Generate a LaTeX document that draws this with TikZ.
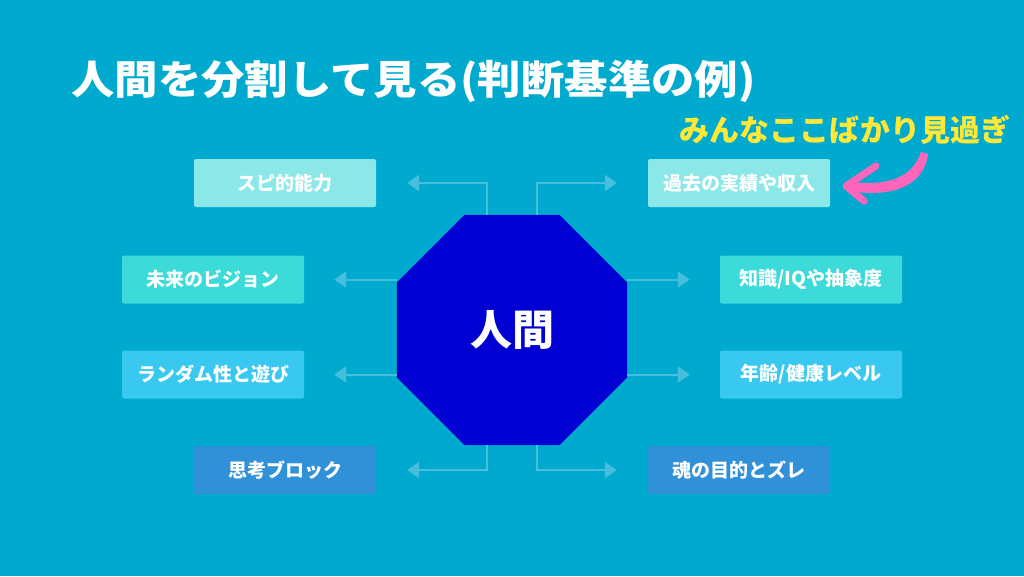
\documentclass[tikz,border=0pt]{standalone}
\usepackage{fontspec}
\setmainfont{Noto Sans CJK JP}
\usetikzlibrary{shapes.geometric, arrows.meta}

\definecolor{bgblue}{HTML}{00AACE}
\definecolor{corebl}{HTML}{0000D2}
\definecolor{linkbl}{HTML}{48BEDE}
\definecolor{paleaq}{HTML}{8CE8E8}
\definecolor{turqu}{HTML}{3CDAD8}
\definecolor{skybl}{HTML}{38C8F0}
\definecolor{deepbl}{HTML}{3090D8}
\definecolor{notey}{HTML}{FFE838}
\definecolor{notep}{HTML}{FF66BB}

\newcommand\factortextstyle{\fontsize{19}{23}\selectfont\bfseries}
\newcommand\factorwidth{182pt}
\newcommand\factorheight{48pt}
\newcommand\factorbox[4]{
  \node[fill=#3, text=white, rounded corners=2pt, minimum width=\factorwidth,
        minimum height=\factorheight, inner sep=0pt] (#1) at (#2) {\factortextstyle #4} ;
}

\tikzset{
  link/.style={draw=linkbl, line width=2pt, -{Triangle[length=12pt, width=16pt]}},
}

\begin{document}
\begin{tikzpicture}[x=1pt, y=-1pt]
    \fill[bgblue] (0, 0) rectangle (1024, 576) ;
    \node[anchor=west, text=white, inner sep=0pt] (title) at (71, 81)
       {\fontsize{40}{48}\selectfont\bfseries\scalebox{1.085}[1]{人間を分割して見る(判断基準の例)}} ;
    \node[regular polygon, regular polygon sides=8,
          minimum size=249pt, inner sep=0pt, fill=corebl, text=white] (human) at (512, 330)
       {\fontsize{42}{50}\selectfont\bfseries 人間} ;
    \factorbox{spirit}{285, 183}{paleaq}{スピ的能力}
    \factorbox{vision}{213, 279.5}{turqu}{未来のビジョン}
    \factorbox{random}{213, 374.5}{skybl}{ランダム性と遊び}
    \factorbox{block}{285, 470}{deepbl}{思考ブロック}
    \factorbox{past}{739, 183}{paleaq}{過去の実績や収入}
    \factorbox{know}{811, 279.5}{turqu}{知識/IQや抽象度}
    \factorbox{health}{811, 374.5}{skybl}{年齢/健康レベル}
    \factorbox{soul}{739, 470}{deepbl}{魂の目的とズレ}
    \draw[link] ([xshift=-25pt]human.north) |- ([xshift=31pt]spirit.east) ;
    \draw[link] ([xshift=25pt]human.north) |- ([xshift=-31pt]past.west) ;
    \draw[link] (human.west |- vision.east) -- ([xshift=30pt]vision.east) ;
    \draw[link] (human.east |- know.west) -- ([xshift=-30pt]know.west) ;
    \draw[link] (human.west |- random.east) -- ([xshift=30pt]random.east) ;
    \draw[link] (human.east |- health.west) -- ([xshift=-30pt]health.west) ;
    \draw[link] ([xshift=-25pt]human.south) |- ([xshift=31pt]block.east) ;
    \draw[link] ([xshift=25pt]human.south) |- ([xshift=-31pt]soul.west) ;
    \node[text=notey, inner sep=0pt] (note) at (845, 130)
       {\fontsize{30}{36}\selectfont\bfseries みんなここばかり見過ぎ} ;
    \fill[notep] (921, 152) .. controls (912, 178) and (888, 186) .. (852, 182)
       -- (850, 191) .. controls (892, 198) and (924, 186) .. (928, 154) -- cycle ;
    \draw[notep, line width=7pt, line cap=round, line join=round]
       (876, 166) -- (846, 186) -- (864, 201) ;
  \end{tikzpicture}
\end{document}
